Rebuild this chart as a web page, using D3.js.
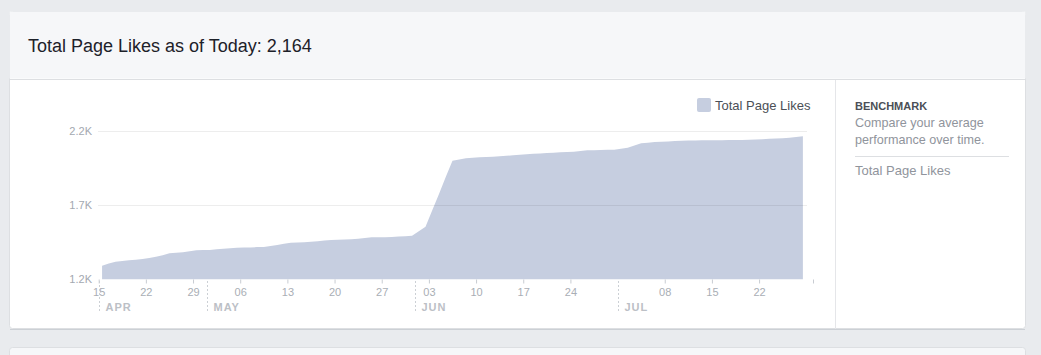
<!doctype html>
<html>
<head>
	<meta charset='utf-8'/>
	<script src="https://d3js.org/d3.v7.min.js"></script>
	<title>Total Page Likes</title>
	<style>
		body {
			margin: 0;
			background: #e9ebee;
			font-family: "Liberation Sans", Arial, sans-serif;
		}
		svg text {
			font-family: "Liberation Sans", Arial, sans-serif;
		}
	</style>
</head>
<body>
	<div id='chart'></div>

	<script>
		var width = 1041,
			height = 355;

		// daily totals, Apr 15 .. Jul 28
		var startDay = "2014-04-15";
		var likes = [
			1292, 1306, 1319, 1323, 1328, 1332, 1337, 1344, 1352, 1363,
			1375, 1379, 1382, 1389, 1396, 1397, 1398, 1402, 1406, 1410,
			1413, 1414, 1415, 1417, 1418, 1424, 1431, 1439, 1447, 1448,
			1449, 1453, 1457, 1461, 1465, 1467, 1468, 1470, 1474, 1479,
			1483, 1484, 1484, 1485, 1488, 1491, 1494, 1524, 1555, 1665,
			1775, 1890, 2000, 2008, 2016, 2020, 2023, 2025, 2027, 2030,
			2033, 2036, 2040, 2043, 2046, 2049, 2051, 2054, 2056, 2058,
			2060, 2065, 2070, 2071, 2072, 2073, 2074, 2080, 2087, 2102,
			2117, 2121, 2125, 2128, 2130, 2133, 2135, 2136, 2136, 2137,
			2137, 2138, 2138, 2139, 2140, 2140, 2141, 2143, 2145, 2147,
			2149, 2151, 2155, 2160, 2164
		];
		var yTicks = [1200, 1700, 2200];
		var yTickLabels = ["1.2K", "1.7K", "2.2K"];
		var xTickDays = ["2014-04-15", "2014-04-22", "2014-04-29", "2014-05-06", "2014-05-13",
			"2014-05-20", "2014-05-27", "2014-06-03", "2014-06-10", "2014-06-17", "2014-06-24",
			"2014-07-08", "2014-07-15", "2014-07-22"];
		var monthStarts = ["2014-04-15", "2014-05-01", "2014-06-01", "2014-07-01"];
		var monthLabels = ["APR", "MAY", "JUN", "JUL"];
		var axisEnd = "2014-07-30";

		var parse = d3.timeParse("%Y-%m-%d");
		var day0 = parse(startDay);
		var data = likes.map(function(v, i) {
			// points sit in the middle of each day
			return {date: d3.timeHour.offset(d3.timeDay.offset(day0, i), 12), value: v};
		});

		var svg = d3.select("#chart").append("svg")
			.attr("width", width)
			.attr("height", height);

		// cards
		svg.append("rect").attr("x", 9.5).attr("y", 11.5).attr("width", 1016).attr("height", 317)
			.attr("rx", 3).attr("fill", "#fff").attr("stroke", "#dddfe2");
		svg.append("path").attr("d", "M10,11.5 h1015 q0.5,0 0.5,3 v64 h-1016 v-64 q0,-3 0.5,-3z")
			.attr("fill", "#f6f7f9");
		svg.append("line").attr("x1", 10).attr("x2", 1025).attr("y1", 79.5).attr("y2", 79.5)
			.attr("stroke", "#dddfe2");
		svg.append("line").attr("x1", 10).attr("x2", 1025).attr("y1", 329.5).attr("y2", 329.5)
			.attr("stroke", "#ccd0d5");
		svg.append("rect").attr("x", 9.5).attr("y", 347.5).attr("width", 1016).attr("height", 20)
			.attr("rx", 3).attr("fill", "#f6f7f9").attr("stroke", "#dddfe2");

		svg.append("text").attr("x", 28).attr("y", 51.5)
			.attr("fill", "#1d2129").style("font-size", "18px")
			.text("Total Page Likes as of Today: 2,164");

		// right panel
		svg.append("line").attr("x1", 835.5).attr("x2", 835.5).attr("y1", 80).attr("y2", 329)
			.attr("stroke", "#e5e6e9");
		svg.append("text").attr("x", 855).attr("y", 109.5).attr("fill", "#4b4f56")
			.style("font-size", "11px").style("font-weight", "bold").text("BENCHMARK");
		svg.append("text").attr("x", 855).attr("y", 127).attr("fill", "#90949c")
			.style("font-size", "12.6px").text("Compare your average");
		svg.append("text").attr("x", 855).attr("y", 144).attr("fill", "#90949c")
			.style("font-size", "12.6px").text("performance over time.");
		svg.append("line").attr("x1", 855).attr("x2", 1009).attr("y1", 156.5).attr("y2", 156.5)
			.attr("stroke", "#dddfe2");
		svg.append("text").attr("x", 855).attr("y", 175).attr("fill", "#90949c")
			.style("font-size", "13px").text("Total Page Likes");

		// scales
		var x = d3.scaleTime()
			.domain([day0, parse(axisEnd)])
			.range([98.7, 813]);
		var y = d3.scaleLinear()
			.domain([1200, 2200])
			.range([279.3, 131]);

		var area = d3.area()
			.x(function(d) { return x(d.date); })
			.y0(y(1200))
			.y1(function(d) { return y(d.value); });

		svg.append("path")
			.datum(data)
			.attr("d", area)
			.attr("fill", "#c6cee0");

		// grid lines over the area
		svg.selectAll(".grid")
			.data(yTicks.slice(1))
			.enter().append("line")
			.attr("class", "grid")
			.attr("x1", 98).attr("x2", 807)
			.attr("y1", function(d) { return Math.round(y(d)) + 0.5; })
			.attr("y2", function(d) { return Math.round(y(d)) + 0.5; })
			.attr("stroke", "rgba(0,0,0,0.07)");

		svg.selectAll(".ylab")
			.data(yTicks)
			.enter().append("text")
			.attr("class", "ylab")
			.attr("x", 92)
			.attr("y", function(d) { return y(d) + 4; })
			.attr("text-anchor", "end")
			.attr("fill", "#a3a8b0")
			.style("font-size", "11px")
			.text(function(d, i) { return yTickLabels[i]; });

		// x axis
		var xAxis = d3.axisBottom(x)
			.tickValues(xTickDays.map(parse).concat([parse(axisEnd)]))
			.tickSize(4)
			.tickFormat(function(d) {
				return +d === +parse(axisEnd) ? "" : d3.timeFormat("%d")(d);
			});

		var gx = svg.append("g")
			.attr("transform", "translate(0," + 279.5 + ")")
			.call(xAxis);
		gx.select(".domain").remove();
		gx.selectAll(".tick line").attr("stroke", "#c8ccd2");
		gx.selectAll(".tick text")
			.attr("fill", "#a9aeb5")
			.attr("y", 9)
			.style("font-size", "11px")
			.style("font-family", "Liberation Sans, Arial, sans-serif");

		// month separators
		var months = svg.selectAll(".month")
			.data(monthStarts)
			.enter().append("g")
			.attr("class", "month")
			.attr("transform", function(d) { return "translate(" + (Math.round(x(parse(d))) + 0.5) + ",0)"; });
		months.append("line")
			.attr("y1", 281).attr("y2", 312)
			.attr("stroke", "#ccd0d5")
			.attr("stroke-dasharray", "2,2");
		months.append("text")
			.attr("x", 6)
			.attr("y", 311)
			.attr("fill", "#bcc0c6")
			.style("font-size", "11px")
			.style("font-weight", "bold")
			.style("letter-spacing", "1px")
			.text(function(d, i) { return monthLabels[i]; });

		// legend
		var legend = svg.append("g").attr("transform", "translate(697,98)");
		legend.append("rect")
			.attr("width", 14).attr("height", 14).attr("rx", 2)
			.attr("fill", "#c6cee0");
		legend.append("text")
			.attr("x", 18).attr("y", 12)
			.attr("fill", "#4b4f56")
			.style("font-size", "13px")
			.text("Total Page Likes");
	</script>
</body>
</html>
